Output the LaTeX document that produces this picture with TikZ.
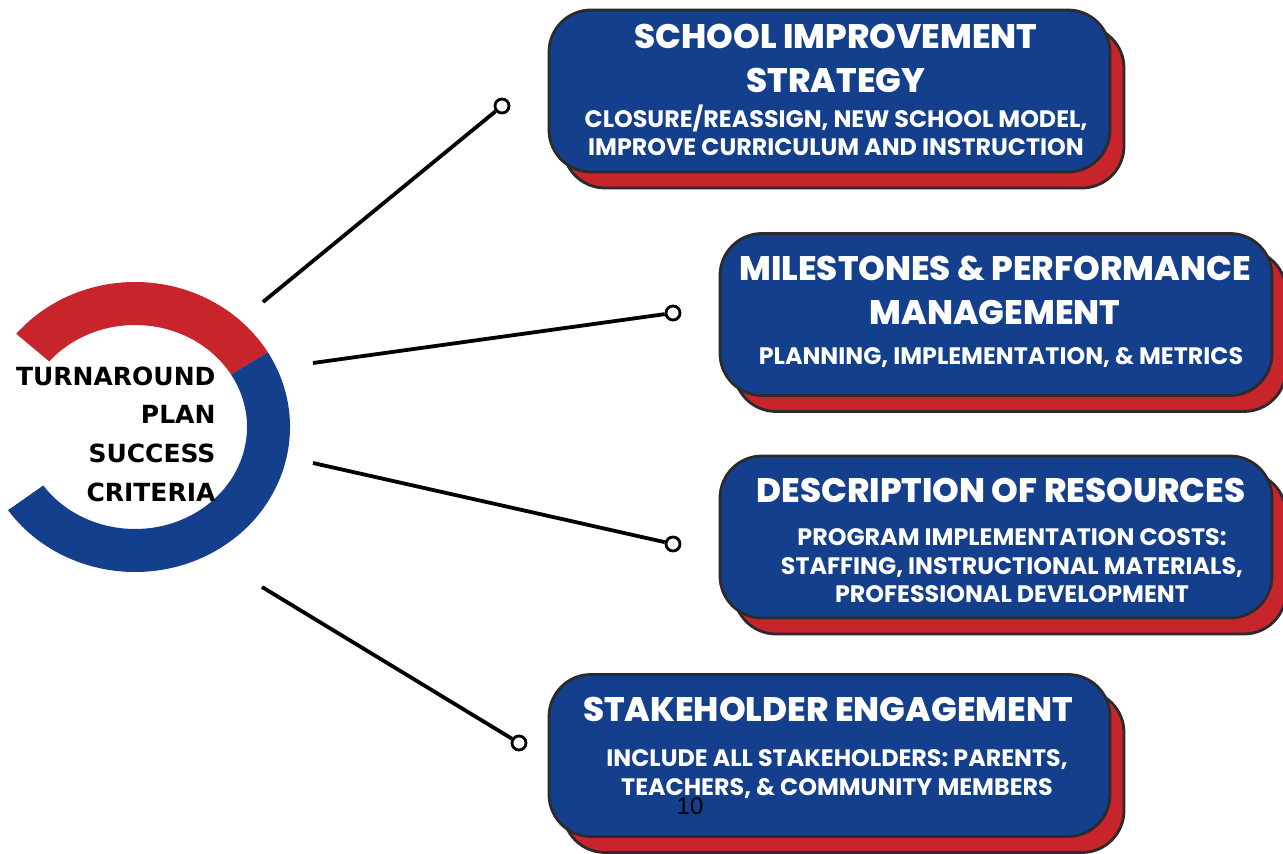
\documentclass[tikz,border=0pt]{standalone}
\usepackage{fontspec}
\newfontfamily\cardfont{Poppins}
\newfontfamily\cardheadfont{Poppins ExtraBold}
\newfontfamily\ringfont{DejaVu Sans}
\newfontfamily\numfont{Liberation Sans}
\usepackage{xcolor}
\definecolor{planblue}{HTML}{133F8C}
\definecolor{planred}{HTML}{C8242B}
\definecolor{edge}{HTML}{2B2B2B}
\usetikzlibrary{positioning,calc,shadows}
\tikzset{
  card/.style={draw=edge,line width=2.8pt,fill=planblue,rounded corners=42pt,minimum width=561pt,minimum height=162pt,
    copy shadow={shadow xshift=14pt,shadow yshift=-16pt,fill=planred,draw=edge,line width=2.8pt}},
  cardhead/.style={text=white,align=center,font=\cardheadfont\fontsize{34}{44}\selectfont},
  carddetail/.style={text=white,align=center,font=\cardfont\bfseries\fontsize{23.8}{28.5}\selectfont},
  ringtext/.style={align=right,font=\ringfont\bfseries\fontsize{25}{38.7}\selectfont},
  spoke/.style={draw=black,line width=3.8pt},
  knob/.style={circle,draw=black,fill=white,line width=2.8pt,minimum size=14pt,inner sep=0pt},
}

\begin{document}
\begin{tikzpicture}[x=1pt,y=1pt]
\useasboundingbox (0,0) rectangle (1283,854);
% ring: red upper part, blue lower part
\coordinate (hub) at (135,427);
\fill[planred] ($(hub)+(140:155 and 145)$) arc[start angle=140,end angle=31,x radius=155,y radius=145]
  -- ($(hub)+(31:112 and 102)$) arc[start angle=31,end angle=140,x radius=112,y radius=102] -- cycle;
\fill[planblue] ($(hub)+(31:155 and 145)$) arc[start angle=31,end angle=-145,x radius=155,y radius=145]
  -- ($(hub)+(-145:112 and 102)$) arc[start angle=-145,end angle=31,x radius=112,y radius=102] -- cycle;
\node[ringtext,anchor=east] (plan) at (219,420) {TURNAROUND\\PLAN\\SUCCESS\\CRITERIA};

% the four cards
\node[card] (strategy) at (829.5,763) {};
\node[card,minimum width=552pt] (milestones) at (996,539.5) {};
\node[card,minimum width=552pt] (resources) at (996,317) {};
\node[card] (stakeholders) at (829.5,98.5) {};

\node[cardhead] (strategyhead) at (836,796) {SCHOOL IMPROVEMENT\\STRATEGY};
\node[carddetail] (strategydetail) at (836,723.5) {CLOSURE/REASSIGN, NEW SCHOOL MODEL,\\IMPROVE CURRICULUM AND INSTRUCTION};
\node[cardhead] (milestoneshead) at (995,563.5) {MILESTONES \& PERFORMANCE\\MANAGEMENT};
\node[carddetail] (milestonesdetail) at (1001,496) {PLANNING, IMPLEMENTATION, \& METRICS};
\node[cardhead] (resourceshead) at (1001,364) {DESCRIPTION OF RESOURCES};
\node[carddetail] (resourcesdetail) at (1012,288) {PROGRAM IMPLEMENTATION COSTS:\\STAFFING, INSTRUCTIONAL MATERIALS,\\PROFESSIONAL DEVELOPMENT};
\node[cardhead] (stakeholdershead) at (828,145) {STAKEHOLDER ENGAGEMENT};
\node[carddetail] (stakeholdersdetail) at (837,80) {INCLUDE ALL STAKEHOLDERS: PARENTS,\\TEACHERS, \& COMMUNITY MEMBERS};

% spokes from the ring out towards the cards
\foreach \n/\sx/\sy/\ex/\ey in {1/263/552/502/748,2/313/491/673/541,3/313/391/673/310,4/262/267/519/111}{
  \coordinate (s\n) at (\sx,\sy);
  \node[knob] (k\n) at (\ex,\ey) {};
  \draw[spoke] (s\n) -- (k\n);}

\node[font=\numfont\fontsize{24}{24}\selectfont] (pageno) at (690,48) {10};
\end{tikzpicture}
\end{document}
